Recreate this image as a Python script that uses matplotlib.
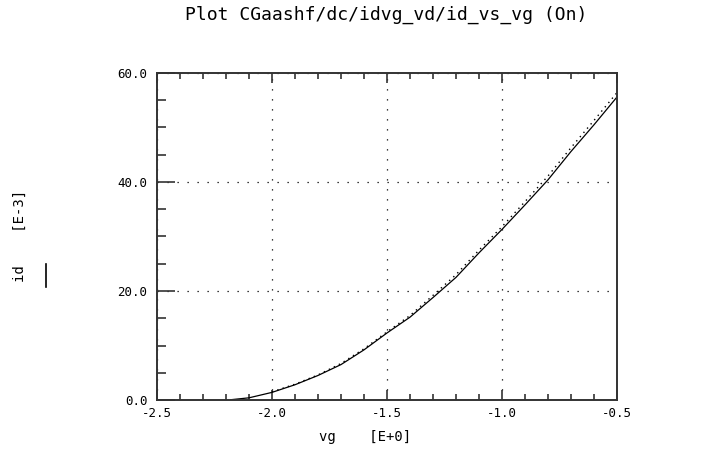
import matplotlib
matplotlib.use("Agg")
import matplotlib.pyplot as plt
from matplotlib.lines import Line2D
from matplotlib.ticker import MultipleLocator, FormatStrFormatter

# ── data ──────────────────────────────────────────────────────────────────────
vg_sim = [-2.18, -2.1, -2.0, -1.9, -1.8, -1.7, -1.6, -1.5, -1.4, -1.3,
          -1.2, -1.1, -1.0, -0.9, -0.8, -0.7, -0.6, -0.5]
id_sim = [0.05, 0.4, 1.4, 2.8, 4.5, 6.5, 9.2, 12.3, 15.2, 18.8,
          22.5, 27.0, 31.3, 35.8, 40.4, 45.6, 50.5, 55.6]

vg_meas = [-2.0, -1.9, -1.8, -1.7, -1.6, -1.5, -1.4, -1.3, -1.2,
           -1.1, -1.0, -0.9, -0.8, -0.7, -0.6, -0.5]
id_meas = [1.5, 2.9, 4.6, 6.7, 9.4, 12.5, 15.5, 19.2, 23.0,
           27.5, 31.8, 36.4, 41.1, 46.3, 51.3, 56.4]

title = "Plot CGaashf/dc/idvg_vd/id_vs_vg (On)"
xlabel = "vg    [E+0]"
ylabel = "id    [E-3]"

plt.rcParams["font.family"] = ["DejaVu Sans Mono"]
plt.rcParams["axes.unicode_minus"] = False

W, H = 711, 450
fig = plt.figure(figsize=(W / 100, H / 100), dpi=100)
ax = fig.add_axes([157 / W, 1 - 400 / H, 460 / W, 327 / H])

ax.plot(vg_sim, id_sim, color="black", lw=0.9)
ax.plot(vg_meas, id_meas, color="black", lw=1.0, ls=(0, (1, 3)))

ax.set_xlim(-2.5, -0.5)
ax.set_ylim(0, 60)
ax.xaxis.set_major_locator(MultipleLocator(0.5))
ax.xaxis.set_minor_locator(MultipleLocator(0.1))
ax.yaxis.set_major_locator(MultipleLocator(20))
ax.yaxis.set_minor_locator(MultipleLocator(5))
ax.xaxis.set_major_formatter(FormatStrFormatter("%.1f"))
ax.yaxis.set_major_formatter(FormatStrFormatter("%.1f"))

ax.grid(True, which="major", color="black", lw=0.9, ls=(0, (1, 7)))

for s in ax.spines.values():
    s.set_color("#333333")
    s.set_linewidth(1.4)

ax.tick_params(axis="x", which="both", direction="in", top=True, bottom=True,
               labelsize=9, pad=5, color="#333333", width=1.2)
ax.tick_params(axis="x", which="major", length=7)
ax.tick_params(axis="x", which="minor", length=4.5)
ax.tick_params(axis="y", which="both", direction="in", left=True, right=False,
               labelsize=9, pad=7, color="#333333", width=1.2)
ax.tick_params(axis="y", which="major", length=13)
ax.tick_params(axis="y", which="minor", length=6.5)

fig.text(386 / W, 1 - 15 / H, title, ha="center", va="center", fontsize=13)
fig.text(365 / W, 1 - 437 / H, xlabel, ha="center", va="center", fontsize=10)
fig.text(20 / W, 1 - 236 / H, ylabel, ha="center", va="center", fontsize=10,
         rotation=90)
fig.add_artist(Line2D([46 / W, 46 / W], [1 - 264 / H, 1 - 287 / H],
                      color="black", lw=1.2))

fig.savefig("out.png", dpi=100)
